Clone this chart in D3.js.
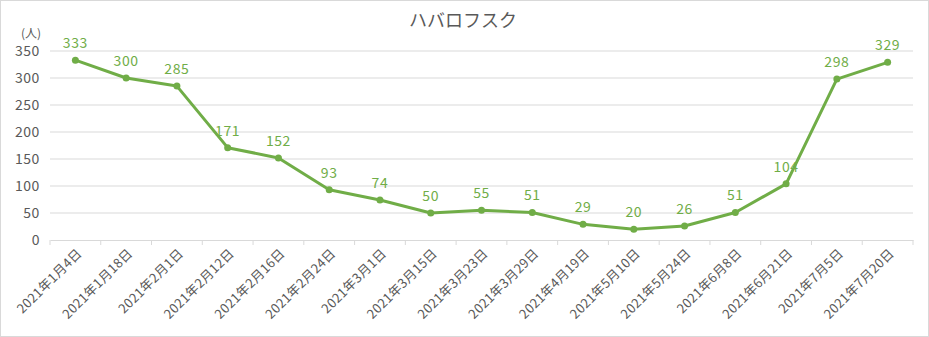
<!DOCTYPE html>
<html><head><meta charset="utf-8">
<script src="https://cdn.jsdelivr.net/npm/d3@7"></script>
<style>body{margin:0;background:#fff;}svg{display:block;}text{font-family:"Noto Sans CJK JP","Noto Sans",sans-serif;}</style>
</head><body>
<svg id="c" width="929" height="337"></svg>
<script>
const categories = ["2021年1月4日","2021年1月18日","2021年2月1日","2021年2月12日","2021年2月16日","2021年2月24日","2021年3月1日","2021年3月15日","2021年3月23日","2021年3月29日","2021年4月19日","2021年5月10日","2021年5月24日","2021年6月8日","2021年6月21日","2021年7月5日","2021年7月20日"];
const values = [333,300,285,171,152,93,74,50,55,51,29,20,26,51,104,298,329];
const yTicks = [0,50,100,150,200,250,300,350];
const title = "ハバロフスク";
const unit = "(人)";

const svg = d3.select("#c");
svg.append("rect").attr("x",0.5).attr("y",0.5).attr("width",928).attr("height",336).attr("fill","#fff").attr("stroke","#d9d9d9");

const x = d3.scaleBand().domain(categories).range([50,913]);
const y = d3.scaleLinear().domain([0,350]).range([240,51]);

// gridlines
svg.append("g").selectAll("line").data(yTicks.slice(1)).join("line")
  .attr("x1",50).attr("x2",913).attr("y1",d=>y(d)).attr("y2",d=>y(d))
  .attr("stroke","#d9d9d9").attr("stroke-width",1);

// y axis labels
const ya = svg.append("g").attr("transform","translate(50,0)").call(d3.axisLeft(y).tickValues(yTicks).tickSize(0).tickPadding(10));
ya.select(".domain").remove();
ya.selectAll("text").attr("fill","#595959").style("font-size","14px").style("letter-spacing","0.6px").style("font-family","'Noto Sans CJK JP','Noto Sans',sans-serif");

// x axis
const xa = svg.append("g").attr("transform","translate(0,240)").call(d3.axisBottom(x).tickSize(0));
xa.select(".domain").attr("stroke","#d9d9d9");
xa.selectAll("text").remove();
const edges = categories.map(c=>x(c)).concat([913]);
svg.append("g").selectAll("line").data(edges).join("line")
  .attr("x1",d=>d).attr("x2",d=>d).attr("y1",240).attr("y2",245).attr("stroke","#d9d9d9");
svg.append("g").selectAll("text").data(categories).join("text")
  .attr("transform",d=>`translate(${x(d)+x.bandwidth()/2+4},${251}) rotate(-45)`)
  .attr("text-anchor","end").attr("dy","0.35em")
  .attr("fill","#595959").style("font-size","13px").style("letter-spacing","0.3px").text(d=>d);

// line
const cx = (d,i)=>x(categories[i])+x.bandwidth()/2;
svg.append("path").datum(values)
  .attr("d",d3.line().x((d,i)=>cx(d,i)).y(d=>y(d)))
  .attr("fill","none").attr("stroke","#70ad47").attr("stroke-width",3).attr("stroke-linejoin","round");
svg.append("g").selectAll("circle").data(values).join("circle")
  .attr("cx",(d,i)=>cx(d,i)).attr("cy",d=>y(d)).attr("r",3.5).attr("fill","#70ad47");
svg.append("g").selectAll("text").data(values).join("text")
  .attr("x",(d,i)=>cx(d,i)).attr("y",d=>y(d)-12)
  .attr("text-anchor","middle").attr("fill","#70ad47").style("font-size","14px").style("letter-spacing","0.6px").text(d=>d);

// title & unit
svg.append("text").attr("x",463).attr("y",27).attr("text-anchor","middle").attr("fill","#595959").style("font-size","18px").text(title);
svg.append("text").attr("x",41).attr("y",38).attr("text-anchor","end").attr("fill","#595959").style("font-size","12px").text(unit);
</script>
</body></html>
